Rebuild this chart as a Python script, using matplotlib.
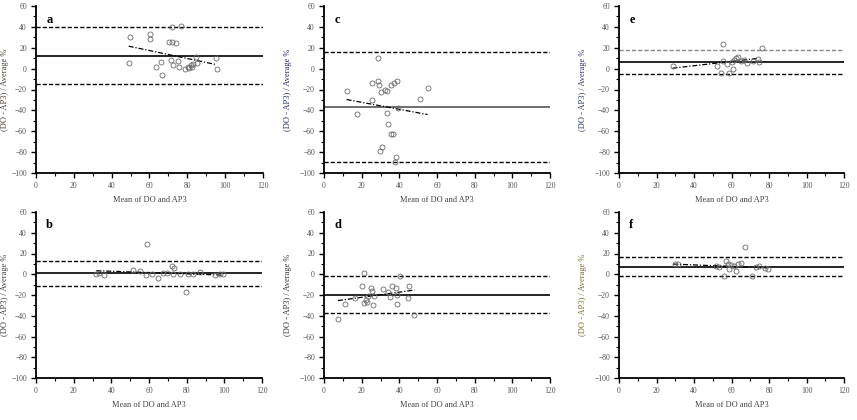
import numpy as np
import matplotlib

matplotlib.use('Agg')
import matplotlib.pyplot as plt
from matplotlib.ticker import MultipleLocator

plt.rcParams['font.family'] = ['Liberation Serif', 'DejaVu Serif']

# panel a
a_x = [49.7, 49.2, 60.3, 60.5, 70.5, 71.7, 74.0, 71.7, 76.5, 63.4, 66.2, 66.8, 71.4,
       72.6, 74.9, 75.6, 78.7, 80.1, 81.7, 83.1, 84.7, 84.9, 95.1, 95.8, 81.0, 82.6]
a_y = [30.0, 5.2, 32.9, 28.1, 25.9, 25.3, 24.3, 40.2, 41.2, 2.0, 6.1, -6.0, 8.4,
       3.0, 7.4, 2.0, 0.1, 1.7, 3.0, 4.2, 11.6, 5.8, 10.6, 0.1, 0.4, 2.0]
a_lines = [40.0, 12.5, -14.5]
a_reg = ([49, 95], [21.5, 4.0])

# panel b
b_x = [32.1, 36.0, 33.5, 51.7, 55.2, 58.2, 58.8, 61.4, 64.9, 67.2, 69.3, 72.0, 73.4,
       72.5, 76.4, 79.4, 80.8, 83.5, 87.0, 95.0, 97.6, 99.3]
b_y = [-0.2, -0.8, 1.0, 3.7, 3.4, -0.8, 29.0, 0.2, -4.0, 0.8, 0.8, 7.8, 5.6,
       0.2, 0.2, -16.8, -0.2, -0.2, 2.4, -0.8, 0.2, 0.2]
b_lines = [13.0, 0.8, -11.4]
b_reg = ([32, 99], [3.4, -0.8])

# panel c
c_x = [28.9, 12.1, 17.7, 25.5, 28.7, 29.3, 30.5, 32.3, 33.2, 35.5, 37.2, 38.5, 25.5,
       33.3, 34.2, 35.5, 36.9, 31.0, 29.8, 38.3, 37.6, 39.4, 50.9, 55.3]
c_y = [9.8, -21.6, -43.4, -13.6, -12.0, -15.8, -22.2, -20.0, -21.6, -15.8, -13.6, -11.4, -29.6,
       -42.4, -52.6, -62.2, -62.2, -75.0, -79.2, -84.6, -89.4, -37.3, -29.3, -18.1]
c_lines = [16.2, -36.6, -89.8]
c_reg = ([12, 55], [-29.6, -44.0])

# panel d
d_x = [7.4, 11.3, 16.7, 20.2, 21.1, 21.3, 22.2, 23.4, 24.8, 25.5, 26.0, 23.0, 26.6,
       31.4, 34.0, 35.3, 36.2, 38.1, 38.5, 38.8, 40.2, 45.0, 44.7, 47.9]
d_y = [-43.4, -28.6, -22.6, -11.4, 0.8, -28.0, -24.8, -20.6, -13.0, -16.2, -29.6, -26.4, -20.6,
       -14.6, -16.8, -21.6, -11.0, -13.0, -29.0, -20.0, -1.4, -11.4, -22.6, -39.2]
d_lines = [-1.8, -20.0, -37.6]
d_reg = ([7.4, 48], [-25.4, -15.2])

# panel e
e_x = [28.6, 52.4, 55.4, 55.6, 54.5, 58.4, 57.5, 60.0, 61.4, 60.9, 62.3, 63.6, 64.8,
       66.4, 68.2, 71.4, 76.0, 74.7, 74.0]
e_y = [2.6, 2.9, 7.4, 23.7, -4.1, -4.4, 4.5, 6.5, 8.4, -0.2, 10.6, 11.2, 7.7,
       8.7, 5.2, 7.4, 19.5, 6.8, 9.3]
e_lines = [17.9, 6.8, -5.0]
e_reg = ([28.5, 74], [0.4, 9.8])

# panel f
f_x = [30.0, 31.2, 51.7, 53.4, 56.1, 57.2, 57.9, 58.4, 59.6, 61.1, 62.3, 63.7, 65.0,
       67.3, 70.8, 73.0, 74.7, 77.9, 79.4]
f_y = [9.4, 10.0, 8.2, 7.2, -1.4, 12.6, 9.4, 4.6, 8.8, 8.2, 3.4, 9.4, 10.4,
       25.8, -1.4, 7.2, 7.8, 5.6, 5.0]
f_lines = [16.2, 7.2, -1.8]
f_reg = ([28.8, 79.7], [9.8, 6.2])

panels = [
    ('a', a_x, a_y, a_lines, a_reg, '(DO - AP3) / Average %', '#4a4030', [36, 6, 263, 173]),
    ('c', c_x, c_y, c_lines, c_reg, '(DO - AP3) / Average %', '#1f2a55', [324, 6, 550, 173]),
    ('e', e_x, e_y, e_lines, e_reg, '(DO - AP3) / Average %', '#2a3560', [619, 6, 844, 173]),
    ('b', b_x, b_y, b_lines, b_reg, '(DO - AP3) / Average %', '#3a3a48', [36, 212, 262, 378]),
    ('d', d_x, d_y, d_lines, d_reg, '(DO - AP3) / Average %', '#333333', [324, 212, 550, 378]),
    ('f', f_x, f_y, f_lines, f_reg, '(DO - AP3) / Average %', '#7a6a30', [619, 212, 844, 378]),
]

W, H = 857, 420
fig = plt.figure(figsize=(W / 100, H / 100), dpi=100)

for letter, xs, ys, lines, reg, ylab, ycol, (l, t, r, b) in panels:
    ax = fig.add_axes([l / W, 1 - b / H, (r - l) / W, (b - t) / H])
    ax.set_xlim(0, 120)
    ax.set_ylim(-100, 60)
    up, mid, lo = lines
    mid_col = '#555555' if letter == 'c' else 'black'
    up_col = '#888888' if letter == 'e' else 'black'
    ax.axhline(up, color=up_col, ls=(0, (3, 1.5)), lw=1.0)
    ax.axhline(lo, color='black', ls=(0, (3, 1.5)), lw=1.0)
    ax.axhline(mid, color=mid_col, lw=1.2)
    ax.plot(reg[0], reg[1], color='black', ls=(0, (4, 1.5, 1, 1.5)), lw=0.9)
    ax.plot(xs, ys, 'o', mfc='none', mec='#6a6a6a', ms=3.6, mew=0.6, clip_on=False)

    for s in ['top', 'right']:
        ax.spines[s].set_visible(False)
    ax.spines['left'].set_linewidth(1.3)
    ax.spines['bottom'].set_linewidth(1.3)
    ax.xaxis.set_major_locator(MultipleLocator(20))
    ax.xaxis.set_minor_locator(MultipleLocator(10))
    ax.yaxis.set_major_locator(MultipleLocator(20))
    ax.yaxis.set_minor_locator(MultipleLocator(10))
    ax.tick_params(which='major', length=3.5, width=1.0, labelsize=5.5,
                   labelcolor='#555555', pad=3)
    ax.tick_params(which='minor', length=2, width=0.8)

    ax.set_xlabel('Mean of DO and AP3', fontsize=6, color='#444444', labelpad=4)
    ax.set_ylabel(ylab, fontsize=6, color=ycol)
    off = 27 if l < 100 else 32
    ax.yaxis.set_label_coords(-off / (r - l), 0.5)
    ax.text(0.045, 0.955, letter, transform=ax.transAxes, fontsize=9,
            fontweight='bold', va='top', ha='left')

fig.savefig('out.png', dpi=100)
